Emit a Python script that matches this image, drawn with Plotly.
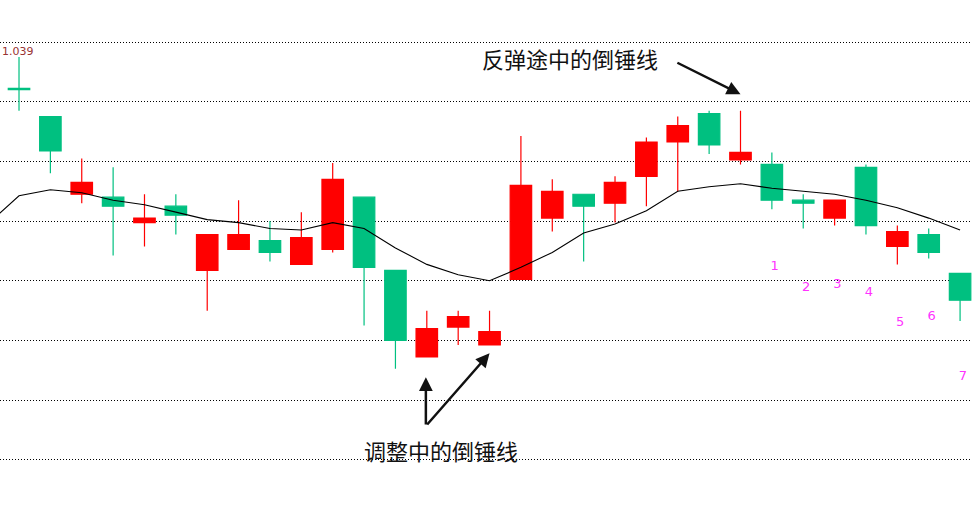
import plotly.graph_objects as go

# candle data (index = trading day)
days = list(range(31))
opens = [1.0369, 1.0350, 1.0298, 1.0296, 1.0279, 1.0290, 1.0247, 1.0261, 1.0267, 1.0251,
         1.0261, 1.0296, 1.0247, 1.0189, 1.0209, 1.0197, 1.0241, 1.0282, 1.0298, 1.0292,
         1.0310, 1.0333, 1.0352, 1.0321, 1.0318, 1.0294, 1.0282, 1.0316, 1.0263, 1.0271,
         1.0245]
highs = [1.0390, 1.0350, 1.0322, 1.0316, 1.0298, 1.0298, 1.0271, 1.0294, 1.0280, 1.0286,
         1.0319, 1.0296, 1.0247, 1.0220, 1.0220, 1.0220, 1.0337, 1.0308, 1.0298, 1.0310,
         1.0336, 1.0350, 1.0354, 1.0354, 1.0326, 1.0298, 1.0294, 1.0318, 1.0277, 1.0275,
         1.0245]
lows = [1.0354, 1.0312, 1.0292, 1.0257, 1.0263, 1.0271, 1.0220, 1.0261, 1.0253, 1.0251,
        1.0259, 1.0210, 1.0181, 1.0189, 1.0197, 1.0197, 1.0241, 1.0273, 1.0253, 1.0279,
        1.0290, 1.0300, 1.0325, 1.0318, 1.0288, 1.0275, 1.0277, 1.0271, 1.0251, 1.0255,
        1.0213]
closes = [1.0368, 1.0327, 1.0306, 1.0290, 1.0282, 1.0284, 1.0271, 1.0271, 1.0259, 1.0269,
          1.0308, 1.0249, 1.0200, 1.0208, 1.0216, 1.0206, 1.0304, 1.0300, 1.0290, 1.0306,
          1.0333, 1.0344, 1.0331, 1.0326, 1.0294, 1.0292, 1.0294, 1.0277, 1.0273, 1.0259,
          1.0227]

# moving average line (starts one day before the first visible candle)
ma_days = list(range(-1, 31))
ma_values = [1.0278, 1.0297, 1.0301, 1.0299, 1.0294, 1.0291, 1.0286, 1.0281, 1.0279, 1.0275,
             1.0274, 1.0279, 1.0275, 1.0262, 1.0251, 1.0244, 1.0240, 1.0249, 1.0259, 1.0272,
             1.0278, 1.0287, 1.0300, 1.0303, 1.0305, 1.0302, 1.0300, 1.0298, 1.0294, 1.0289,
             1.0282, 1.0274]

# magenta counting labels
count_labels = ["1", "2", "3", "4", "5", "6", "7"]
count_days = [24, 25, 26, 27, 28, 29, 30]
count_prices = [1.02495, 1.02354, 1.02372, 1.02323, 1.02122, 1.02160, 1.01754]

max_label = "1.039"

up_red = "#ff0000"
down_green = "#00c080"

fig = go.Figure()

fig.add_trace(go.Candlestick(
    x=days, open=opens, high=highs, low=lows, close=closes,
    increasing=dict(line=dict(color=up_red, width=1.2), fillcolor=up_red),
    decreasing=dict(line=dict(color=down_green, width=1.2), fillcolor=down_green),
    whiskerwidth=0,
    showlegend=False,
    hoverinfo="skip",
))

fig.add_trace(go.Scatter(
    x=ma_days, y=ma_values, mode="lines",
    line=dict(color="#000000", width=1.1),
    showlegend=False, hoverinfo="skip",
))

# numbers sit a little right of the candle centres
fig.add_trace(go.Scatter(
    x=[d + 0.09 for d in count_days], y=count_prices, mode="text", text=count_labels,
    textfont=dict(family="DejaVu Sans, sans-serif", size=13, color="#ff33ff"),
    textposition="middle center",
    showlegend=False, hoverinfo="skip",
))

cjk = "Noto Sans CJK SC, Microsoft YaHei, sans-serif"
annotations = [
    # max price marker
    dict(x=-0.6, y=1.03935, xref="x", yref="y", text=max_label, showarrow=False,
         xanchor="left", yanchor="middle",
         font=dict(family="DejaVu Sans, sans-serif", size=11, color="#993333")),
    # top caption and arrow
    dict(x=17.58, y=1.0389, xref="x", yref="y", text="反弹途中的倒锤线", showarrow=False,
         xanchor="center", yanchor="middle", font=dict(family=cjk, size=22, color="#111111")),
    dict(x=23.0, y=1.0365, ax=20.94, ay=1.03866, xref="x", yref="y", axref="x", ayref="y",
         text="", showarrow=True, arrowhead=2, arrowsize=1.1, arrowwidth=2.5, arrowcolor="#111111",
         standoff=0),
    # bottom caption and the two arrows
    dict(x=13.45, y=1.01267, xref="x", yref="y", text="调整中的倒锤线", showarrow=False,
         xanchor="center", yanchor="middle", font=dict(family=cjk, size=22, color="#111111")),
    dict(x=12.97, y=1.01754, ax=12.97, ay=1.01427, xref="x", yref="y", axref="x", ayref="y",
         text="", showarrow=True, arrowhead=2, arrowsize=1.1, arrowwidth=2.5, arrowcolor="#111111",
         standoff=0),
    dict(x=15.0, y=1.01914, ax=12.97, ay=1.01427, xref="x", yref="y", axref="x", ayref="y",
         text="", showarrow=True, arrowhead=2, arrowsize=1.1, arrowwidth=2.5, arrowcolor="#111111",
         standoff=0),
]

fig.update_layout(
    width=972, height=516,
    margin=dict(l=0, r=0, t=0, b=0),
    paper_bgcolor="#ffffff",
    plot_bgcolor="#ffffff",
    boxgap=0.315,
    boxgroupgap=0,
    annotations=annotations,
    xaxis=dict(range=[-0.606, 30.38], showgrid=False, zeroline=False, showticklabels=False,
               rangeslider=dict(visible=False), fixedrange=True),
    yaxis=dict(range=[1.008241, 1.042814], tick0=1.0, dtick=0.004, showgrid=True,
               gridcolor="#000000", gridwidth=1, griddash="1px,2px", zeroline=False,
               showticklabels=False, fixedrange=True),
)

# page body has a default 8px margin; drop it so the chart fills the window
fig.write_html("out.html", config=dict(displayModeBar=False),
               post_script="document.body.style.margin='0';")
